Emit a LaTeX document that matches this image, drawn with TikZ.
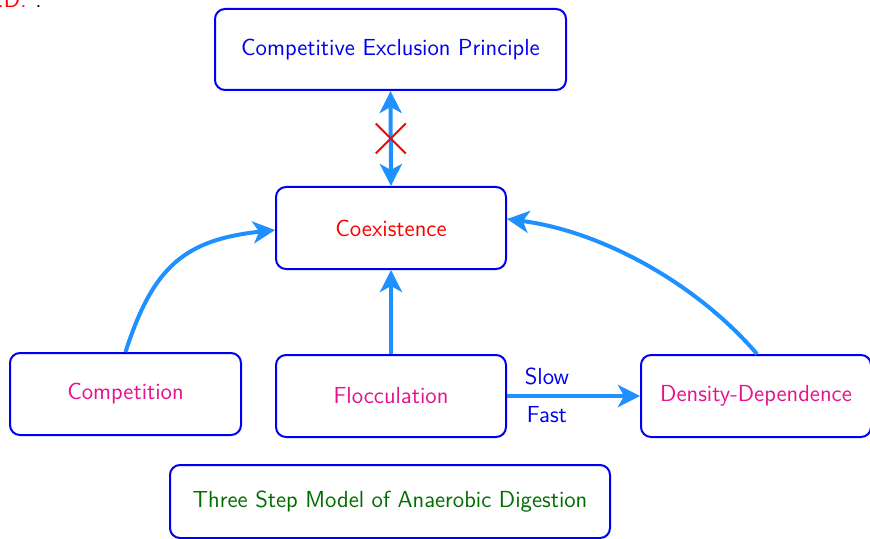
\documentclass[tikz,border=0pt]{standalone}
\usetikzlibrary{arrows.meta,calc}
\renewcommand{\familydefault}{\sfdefault}
\definecolor{arrowblue}{RGB}{30,144,255}
\definecolor{boxblue}{RGB}{0,0,240}
\definecolor{pinktext}{RGB}{228,20,140}
\definecolor{greentext}{RGB}{0,110,0}
\begin{document}
\begin{tikzpicture}[x=0.5pt,y=-0.5pt,
  fnt/.style={font=\sffamily\fontsize{11.6}{13.9}\selectfont},
  box/.style={draw=boxblue, line width=1pt, rounded corners=5pt, fill=white, inner sep=0pt, fnt},
  conn/.style={draw=arrowblue, line width=2pt, -{Stealth[length=11pt,width=11pt,inset=3pt]}},
  lbl/.style={text=boxblue, fnt}]
\useasboundingbox (0,0) rectangle (870,539);
\node[box, minimum width=175.5pt, minimum height=40.5pt, text=boxblue] (cep) at (390.5,49.5) {Competitive Exclusion Principle};
\node[box, minimum width=115pt, minimum height=41pt, text=red] (coex) at (391,228) {Coexistence};
\node[box, minimum width=115.5pt, minimum height=41pt, text=pinktext] (comp) at (125.5,394) {Competition};
\node[box, minimum width=115pt, minimum height=41pt, text=pinktext] (floc) at (391,396) {Flocculation};
\node[box, minimum width=115pt, minimum height=41pt, text=pinktext] (dens) at (756,396) {Density-Dependence};
\node[box, minimum width=220pt, minimum height=36.5pt, text=greentext] (three) at (390,501.5) {Three Step Model of Anaerobic Digestion};
\node[anchor=base east, text=red, fnt, inner sep=0pt] (pd) at (27,8) {P.D.};
\node[anchor=base west, fnt, inner sep=0pt] (dot) at (35,8) {.};
% double arrow with cross
\draw[draw=arrowblue, line width=2pt, {Stealth[length=11pt,width=11pt,inset=3pt]}-{Stealth[length=11pt,width=11pt,inset=3pt]}] (cep.south) -- (coex.north) coordinate[pos=0.5] (mid);
\draw[red, line width=1pt] ($(mid)+(-15,-15)$) -- ($(mid)+(15,15)$);
\draw[red, line width=1pt] ($(mid)+(-15,15)$) -- ($(mid)+(15,-15)$);
% connectors
\draw[conn] (comp.north) to[bend left=33, looseness=1.2] ([yshift=-1pt]coex.west);
\draw[conn] (floc.north) -- (coex.south);
\draw[conn] ([xshift=0.5pt]dens.north) to[bend right=21, looseness=0.85] ([yshift=4.5pt]coex.east);
\draw[conn] (floc.east) -- node[lbl, above, pos=0.3, yshift=1pt] {Slow} node[lbl, below, pos=0.3, yshift=-1pt] {Fast} (dens.west);
\end{tikzpicture}
\end{document}
